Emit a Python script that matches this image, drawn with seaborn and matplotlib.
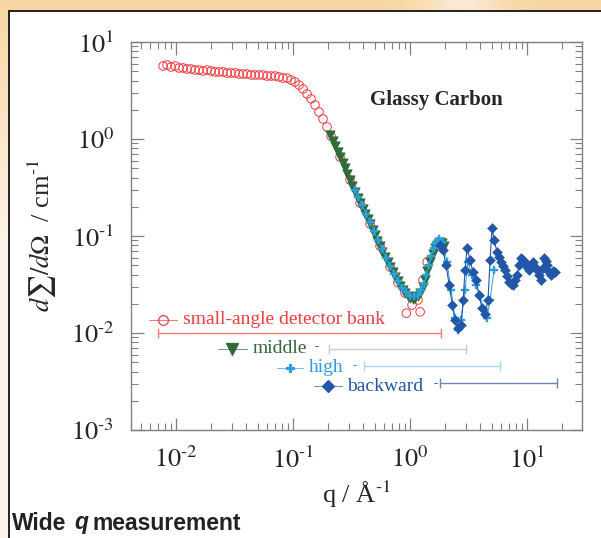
import numpy as np
import pandas as pd
import matplotlib
matplotlib.use("Agg")
import matplotlib.pyplot as plt
import matplotlib.transforms as mtransforms
from matplotlib.patches import Rectangle
from matplotlib.ticker import FixedLocator, LogLocator, NullFormatter
import seaborn as sns

# small-angle detector bank (open circles)
q_sa = [0.00774, 0.00838, 0.00906, 0.00980, 0.01061, 0.01148, 0.01242, 0.01344, 0.01454,
        0.01573, 0.01702, 0.01841, 0.01991, 0.02154, 0.02331, 0.02522, 0.02729, 0.02952,
        0.03194, 0.03455, 0.03738, 0.04044, 0.04375, 0.04733, 0.05121, 0.05540, 0.05995,
        0.06486, 0.07017, 0.07590, 0.08212, 0.08885, 0.09613, 0.1040, 0.1125, 0.1218,
        0.1318, 0.1425, 0.1542, 0.1668, 0.1805, 0.1953, 0.2113,
        0.252, 0.307, 0.374, 0.455, 0.554, 0.675, 0.789, 0.906, 0.93, 1.04, 1.17, 1.22,
        1.29, 1.40]
I_sa = [5.66, 5.79, 5.52, 5.66, 5.40, 5.40, 5.27, 5.27, 5.14, 5.14, 5.02, 5.14, 5.02,
        4.91, 4.91, 4.91, 4.79, 4.79, 4.79, 4.68, 4.68, 4.68, 4.57, 4.57, 4.57, 4.57,
        4.46, 4.46, 4.46, 4.36, 4.25, 4.25, 4.06, 3.87, 3.60, 3.28, 2.91, 2.59, 2.24,
        1.90, 1.61, 1.33, 1.07,
        0.652, 0.378, 0.219, 0.133, 0.0788, 0.0479, 0.0330, 0.0258, 0.0160, 0.0194,
        0.0219, 0.0165, 0.0351, 0.054]

# middle bank (filled triangles)
q_mid = [0.208, 0.218, 0.229, 0.240, 0.252, 0.265, 0.278, 0.292, 0.307, 0.322, 0.339,
         0.356, 0.374, 0.393, 0.412, 0.433, 0.455, 0.478, 0.502, 0.527, 0.554, 0.581,
         0.611, 0.642, 0.675, 0.709, 0.745, 0.783, 0.822, 0.863, 0.906, 0.952, 1.00,
         1.05, 1.10, 1.16, 1.22, 1.28, 1.34, 1.41, 1.48, 1.56, 1.64, 1.72, 1.80, 1.87, 1.95]
I_mid = [1.10, 0.965, 0.847, 0.742, 0.652, 0.572, 0.502, 0.436, 0.378, 0.328, 0.284,
         0.249, 0.219, 0.192, 0.169, 0.150, 0.133, 0.116, 0.102, 0.0897, 0.0788, 0.0692,
         0.0608, 0.0540, 0.0479, 0.0425, 0.0378, 0.0340, 0.0305, 0.0280, 0.0258, 0.0242,
         0.0230, 0.0226, 0.0230, 0.0240, 0.0258, 0.0298, 0.0351, 0.0440, 0.054, 0.0650,
         0.0752, 0.0830, 0.0867, 0.0840, 0.0788]

# high-angle bank
q_high = [0.339, 0.362, 0.389, 0.420, 0.455, 0.492, 0.532, 0.576, 0.624, 0.675, 0.730,
          0.790, 0.855, 0.925, 1.00, 1.08, 1.17, 1.24, 1.32, 1.38, 1.45, 1.52, 1.60, 1.68,
          1.77, 1.91, 2.07, 2.24, 2.42, 2.57, 2.73, 2.95, 3.13, 3.39, 3.67, 3.96, 4.29,
          4.55, 4.83, 5.22]
I_high = [0.298, 0.250, 0.209, 0.170, 0.139, 0.112, 0.091, 0.0735, 0.0593, 0.0490,
          0.0406, 0.0340, 0.0291, 0.0262, 0.0241, 0.0238, 0.0246, 0.0275, 0.0320, 0.0400,
          0.0502, 0.0620, 0.0752, 0.0860, 0.0931, 0.0867, 0.054, 0.0277, 0.0143, 0.0107,
          0.0136, 0.0277, 0.054, 0.0396, 0.0313, 0.0241, 0.0173, 0.0143, 0.0219, 0.0446]

# backward bank (filled diamonds)
q_back = [1.80, 1.91, 2.03, 2.16, 2.30, 2.42, 2.57, 2.73, 2.85, 2.95, 3.07, 3.26, 3.45,
          3.67, 3.89, 4.12, 4.38, 4.64, 4.83, 5.02, 5.22, 5.55, 5.78, 6.00, 6.25, 6.49,
          6.75, 7.02, 7.30, 7.59, 7.90, 8.22, 8.55, 8.89, 9.25, 9.61, 10.0, 10.4, 10.8,
          11.2, 11.7, 12.2, 12.7, 13.2, 13.6, 14.0, 14.4, 14.8, 15.4, 16.0, 16.6, 17.3]
I_back = [0.0807, 0.0717, 0.0502, 0.0313, 0.0194, 0.0136, 0.0113, 0.0121, 0.0219,
          0.0446, 0.0752, 0.0566, 0.0426, 0.0351, 0.0246, 0.0181, 0.0157, 0.0219, 0.0566,
          0.121, 0.091, 0.0684, 0.0610, 0.054, 0.0490, 0.0446, 0.0390, 0.0336, 0.0320,
          0.0313, 0.0350, 0.0396, 0.0500, 0.0593, 0.0560, 0.054, 0.0480, 0.0446, 0.0500,
          0.054, 0.0480, 0.0446, 0.0400, 0.0351, 0.0470, 0.0593, 0.0550, 0.0502, 0.0430,
          0.0396, 0.0440, 0.0426]

# q range covered by each bank
banks = ["small-angle detector bank", "middle", "high", "backward"]
q_lo = [0.0070, 0.203, 0.404, 1.80]
q_hi = [1.84, 3.01, 5.88, 18.0]
dq_frac = 0.05  # relative q resolution drawn as horizontal error bars

RED, GREEN, CYAN, BLUE = "#ee3b3f", "#2f6a38", "#2c9fd9", "#2256a8"
BAR_COLORS = ["#ef7b7b", "#c2d0c8", "#a9d6f2", "#6d86bd"]

sns.set_style("ticks")
plt.rcParams["font.family"] = ["Liberation Serif", "DejaVu Serif"]
plt.rcParams["mathtext.fontset"] = "stix"

fig = plt.figure(figsize=(6.01, 5.38), dpi=100)

# page background: warm gradient with a white framed panel
bg = fig.add_axes([0, 0, 1, 1], zorder=-10)
h, w = 538, 601
yy = np.linspace(0, 1, h)[:, None]
xx = np.linspace(0, 1, w)[None, :]
top = np.array([0.975, 0.84, 0.64])
bot = np.array([0.995, 0.955, 0.915])
t = np.clip(yy * 2.2, 0, 1)[..., None]
img = top * (1 - t) + bot * t
glow = np.exp(-((xx - 0.77) ** 2) / 0.004)[..., None] * np.exp(-(yy ** 2) / 0.002)[..., None]
img = np.clip(img + glow * np.array([0.0, 0.08, 0.2]), 0, 1) * np.ones((h, w, 3))
bg.imshow(img, aspect="auto", extent=[0, 1, 0, 1])
bg.add_patch(Rectangle((9 / w, -0.05), 1.1, 1 - 11 / h + 0.05, facecolor="white",
                       edgecolor="black", lw=1.2))
bg.set_xlim(0, 1)
bg.set_ylim(0, 1)
bg.axis("off")

ax = fig.add_axes([131 / w, 1 - 430 / h, (582 - 131) / w, (430 - 42) / h])
ax.set_xscale("log")
ax.set_yscale("log")

sns.scatterplot(x=q_sa, y=I_sa, ax=ax, marker="o", s=38, facecolor="none",
                edgecolor=RED, linewidth=0.7, zorder=3)
sns.scatterplot(x=q_mid, y=I_mid, ax=ax, marker="v", s=44, color=GREEN,
                edgecolor=GREEN, linewidth=0.6, zorder=4)

qh = np.array(q_high)
ax.errorbar(q_high, I_high, xerr=dq_frac * qh, fmt="none", ecolor="#9fd2f0",
            elinewidth=0.8, zorder=4.5)
sns.lineplot(x=q_high, y=I_high, ax=ax, sort=False, estimator=None, color=CYAN,
             lw=0.7, zorder=5)
sns.scatterplot(x=q_high, y=I_high, ax=ax, marker="P", s=30, color=CYAN,
                edgecolor=CYAN, linewidth=0.3, zorder=5)

qb = np.array(q_back)
ax.errorbar(q_back, I_back, xerr=dq_frac * qb, fmt="none", ecolor="#7d9bd0",
            elinewidth=0.8, zorder=5.5)
sns.lineplot(x=q_back, y=I_back, ax=ax, sort=False, estimator=None, color=BLUE,
             lw=0.8, zorder=6)
sns.scatterplot(x=q_back, y=I_back, ax=ax, marker="D", s=26, color=BLUE,
                edgecolor=BLUE, linewidth=0.3, zorder=6)

# q-range bars and hand-placed legend rows
trans = mtransforms.blended_transform_factory(ax.transData, ax.transAxes)
bar_y = [0.250, 0.209, 0.165, 0.121]
for lo, hi, yb, c in zip(q_lo, q_hi, bar_y, BAR_COLORS):
    ax.plot([lo, hi], [yb, yb], color=c, lw=1.0, transform=trans, zorder=2)
    ax.plot([lo, hi], [yb, yb], ls="none", marker="|", ms=7, mew=1.0, color=c,
            transform=trans, zorder=2)

leg_y = [0.284, 0.209, 0.160, 0.113]
leg_x = [(0.040, 0.102), (0.193, 0.257), (0.324, 0.381), (0.406, 0.468)]
leg_txt = [0.115, 0.270, 0.395, 0.479]
dash_x = [None, 0.408, 0.492, 0.670]
leg_mk = [("o", "none", 7), ("v", GREEN, 8), ("P", CYAN, 6), ("D", BLUE, 6)]
for name, y, (x0, x1), xt, xd, (mk, fc, ms), c in zip(
        banks, leg_y, leg_x, leg_txt, dash_x, leg_mk, [RED, GREEN, CYAN, BLUE]):
    ax.plot([x0, x1], [y, y], color=c, lw=0.7, alpha=0.7, transform=ax.transAxes)
    ax.plot([(x0 + x1) / 2], [y], marker=mk, ms=ms, mfc=fc, mec=c, mew=0.9,
            transform=ax.transAxes)
    ax.text(xt, y, name, color=c, fontsize=14, va="center", ha="left",
            transform=ax.transAxes)
    if xd is not None:
        ax.text(xd, y + 0.006, "-", color=c, fontsize=9, va="center", ha="left",
                transform=ax.transAxes)

ax.text(0.53, 0.85, "Glassy Carbon", fontsize=15, fontweight="bold",
        transform=ax.transAxes, ha="left", va="center")

ax.set_xlim(4.12e-3, 29.5)
ax.set_ylim(1e-3, 10)
ax.xaxis.set_major_locator(FixedLocator([1e-2, 1e-1, 1e0, 1e1]))
ax.yaxis.set_major_locator(FixedLocator([1e-3, 1e-2, 1e-1, 1e0, 1e1]))
ax.xaxis.set_minor_locator(LogLocator(base=10, subs=np.arange(2, 10)))
ax.yaxis.set_minor_locator(LogLocator(base=10, subs=np.arange(2, 10)))
ax.xaxis.set_minor_formatter(NullFormatter())
ax.yaxis.set_minor_formatter(NullFormatter())
ax.set_xticklabels([r"$10^{\text{-}2}$", r"$10^{\text{-}1}$", r"$10^{0}$", r"$10^{1}$"])
ax.set_yticklabels([r"$10^{\text{-}3}$", r"$10^{\text{-}2}$", r"$10^{\text{-}1}$",
                    r"$10^{0}$", r"$10^{1}$"])
ax.tick_params(which="both", direction="in", top=True, right=True, color="#808080",
               labelsize=19)
ax.tick_params(which="major", length=9, width=0.9, pad=12)
ax.tick_params(which="minor", length=5, width=0.8)
for sp in ax.spines.values():
    sp.set_color("#808080")
    sp.set_linewidth(1.0)

ax.set_xlabel(r"q / Å$^{\text{-}1}$", fontsize=19, labelpad=4)
ax.set_ylabel(r"$d\sum/d\Omega$  / cm$^{\text{-}1}$", fontsize=19, labelpad=8)

fig.text(12 / w, 1 - 523 / h, "Wide", fontsize=16.5, fontweight="bold",
         family="Liberation Sans", va="center", color="#222222")
fig.text(74 / w, 1 - 523 / h, "q", fontsize=16.5, fontweight="bold", style="italic",
         family="Liberation Sans", va="center", color="#222222")
fig.text(92 / w, 1 - 523 / h, "measurement", fontsize=16.5, fontweight="bold",
         family="Liberation Sans", va="center", color="#222222")

fig.savefig("out.png", dpi=100)
